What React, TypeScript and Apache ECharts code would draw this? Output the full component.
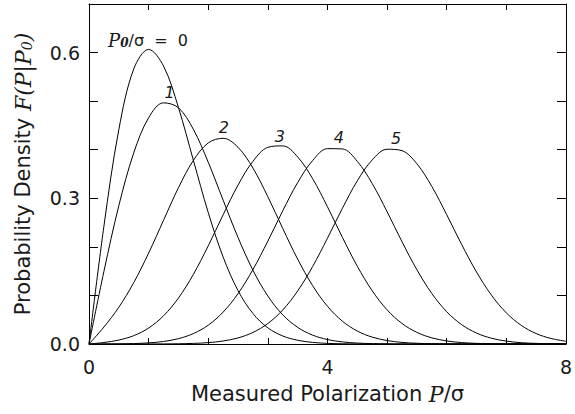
import React, { useEffect, useRef } from "react";
import * as echarts from "echarts";

// Sample positions P/sigma
const xValues = [
  0, 0.25, 0.5, 0.75, 1, 1.25, 1.5, 1.75, 2, 2.25, 2.5, 2.75, 3, 3.25, 3.5, 3.75, 4,
  4.25, 4.5, 4.75, 5, 5.25, 5.5, 5.75, 6, 6.25, 6.5, 6.75, 7, 7.25, 7.5, 7.75, 8,
];

// Probability density (P0/sigma = 0..5)
const curveP0 = [
  0, 0.2423, 0.4412, 0.5661, 0.6065, 0.5723, 0.487, 0.3785, 0.2707, 0.179, 0.1098, 0.0627,
  0.0333, 0.0165, 0.0077, 0.0033, 0.0013, 0.0005, 0.0002, 0.0001, 0, 0, 0, 0, 0, 0, 0, 0, 0,
  0, 0, 0, 0,
];
const curveP1 = [
  0, 0.1493, 0.2846, 0.3933, 0.4658, 0.4965, 0.4864, 0.4421, 0.3742, 0.2961, 0.2192, 0.1519,
  0.0987, 0.06, 0.0343, 0.0183, 0.0092, 0.0043, 0.0019, 0.0008, 0.0003, 0.0001, 0, 0, 0, 0, 0,
  0, 0, 0, 0, 0, 0,
];
const curveP2 = [
  0, 0.0349, 0.0756, 0.1262, 0.1871, 0.2547, 0.3217, 0.3779, 0.414, 0.4235, 0.4049, 0.3622,
  0.3032, 0.2378, 0.1747, 0.1203, 0.0776, 0.047, 0.0267, 0.0142, 0.0071, 0.0033, 0.0015, 0.0006,
  0.0002, 0.0001, 0, 0, 0, 0, 0, 0, 0,
];
const curveP3 = [
  0, 0.0031, 0.0081, 0.0172, 0.0329, 0.058, 0.0946, 0.1432, 0.2021, 0.2661, 0.3272, 0.3762,
  0.4049, 0.4079, 0.3851, 0.3406, 0.2825, 0.2196, 0.1602, 0.1096, 0.0703, 0.0423, 0.0239, 0.0127,
  0.0063, 0.0029, 0.0013, 0.0005, 0.0002, 0.0001, 0, 0, 0,
];
const curveP4 = [
  0, 0.0001, 0.0003, 0.0009, 0.0023, 0.0052, 0.011, 0.0214, 0.0388, 0.0657, 0.1038, 0.1533,
  0.2118, 0.2742, 0.3324, 0.3776, 0.4022, 0.4016, 0.3761, 0.3304, 0.2723, 0.2105, 0.1528, 0.104,
  0.0665, 0.0399, 0.0225, 0.0119, 0.0059, 0.0027, 0.0012, 0.0005, 0.0002,
];
const curveP5 = [
  0, 0, 0, 0, 0.0001, 0.0002, 0.0005, 0.0012, 0.0028, 0.0062, 0.0125, 0.0238, 0.0422, 0.0701,
  0.1092, 0.1593, 0.2178, 0.2793, 0.3359, 0.3789, 0.401, 0.3981, 0.371, 0.3244, 0.2662, 0.205,
  0.1482, 0.1006, 0.0641, 0.0384, 0.0215, 0.0114, 0.0056,
];
const curves = [curveP0, curveP1, curveP2, curveP3, curveP4, curveP5];

// Curve annotations (data coordinates)
const labelTexts = ["{p|P}{s|0}{n|/σ  =  0}", "1", "2", "3", "4", "5"];
const labelX = [0.99, 1.35, 2.26, 3.2, 4.19, 5.15];
const labelY = [0.625, 0.518, 0.446, 0.427, 0.425, 0.423];

// Axis label rules
const xLabelValues = [0, 4, 8];
const yLabelValues = [0, 0.3, 0.6];

const SANS = "DejaVu Sans";
const SERIF = "DejaVu Serif";
const TXT = "#1a1a1a";

export default function App() {
  const ref = useRef<HTMLDivElement>(null);
  useEffect(() => {
    document.body.style.margin = "0";
    const chart = echarts.init(ref.current!, null, { renderer: "svg" });
    const axisLine = { show: true, onZero: false, lineStyle: { color: "#000", width: 1 } };
    const option: any = {
      animation: false,
      backgroundColor: "#fff",
      grid: { left: 89, right: 6, top: 4, bottom: 70 },
      xAxis: [
        {
          type: "value",
          position: "bottom",
          min: 0,
          max: 8,
          interval: 1,
          axisLine,
          axisTick: { inside: true, length: 6, lineStyle: { color: "#000" } },
          splitLine: { show: false },
          axisLabel: {
            margin: 13,
            fontSize: 19,
            fontFamily: SANS,
            color: TXT,
            formatter: (v: number) => (xLabelValues.some((t) => Math.abs(t - v) < 1e-9) ? String(v) : ""),
          },
          name: "Measured Polarization {i|P}/σ",
          nameLocation: "middle",
          nameGap: 39,
          nameTextStyle: {
            fontSize: 21,
            fontFamily: SANS,
            color: TXT,
            rich: {
              i: { fontSize: 22, fontFamily: SERIF, fontStyle: "italic", color: TXT },
            },
          },
        },
        {
          type: "value",
          position: "top",
          min: 0,
          max: 8,
          interval: 1,
          axisLine,
          axisTick: { inside: true, length: 6, lineStyle: { color: "#000" } },
          splitLine: { show: false },
          axisLabel: { show: false },
        },
      ],
      yAxis: [
        {
          type: "value",
          position: "left",
          min: 0,
          max: 0.7,
          interval: 0.1,
          axisLine,
          axisTick: { inside: true, length: 9, lineStyle: { color: "#000" } },
          splitLine: { show: false },
          axisLabel: {
            margin: 9,
            fontSize: 19,
            fontFamily: SANS,
            color: TXT,
            formatter: (v: number) =>
              yLabelValues.some((t) => Math.abs(t - v) < 1e-9) ? v.toFixed(1) : "",
          },
          name: "Probability Density {i|F(P|P}{s|0}{i|)}",
          nameLocation: "middle",
          nameGap: 55,
          nameTextStyle: {
            fontSize: 21,
            fontFamily: SANS,
            color: TXT,
            rich: {
              i: { fontSize: 22, fontFamily: SERIF, fontStyle: "italic", color: TXT },
              s: {
                fontSize: 14,
                fontFamily: SERIF,
                fontStyle: "italic",
                color: TXT,
                verticalAlign: "bottom",
                padding: [7, 0, 0, 0],
              },
            },
          },
        },
        {
          type: "value",
          position: "right",
          min: 0,
          max: 0.7,
          interval: 0.1,
          axisLine,
          axisTick: { inside: true, length: 9, lineStyle: { color: "#000" } },
          splitLine: { show: false },
          axisLabel: { show: false },
        },
      ],
      series: curves.map((vals, k) => ({
        type: "line",
        xAxisIndex: 0,
        yAxisIndex: 0,
        data: xValues.map((x, i) => [x, vals[i]]),
        showSymbol: false,
        smooth: 0.35,
        clip: true,
        lineStyle: { color: "#000", width: 1 },
        silent: true,
        markPoint: {
          symbol: "circle",
          symbolSize: 0,
          silent: true,
          data: [
            {
              coord: [labelX[k], labelY[k]],
              label: {
                show: true,
                position: "inside",
                align: "center",
                verticalAlign: "middle",
                formatter: labelTexts[k],
                fontSize: 16,
                fontFamily: SANS,
                fontStyle: "italic",
                color: TXT,
                rich: {
                  p: { fontSize: 18, fontFamily: SERIF, fontStyle: "italic", color: TXT },
                  s: {
                    fontSize: 12,
                    fontFamily: SERIF,
                    fontStyle: "italic",
                    fontWeight: "bold",
                    color: TXT,
                    verticalAlign: "bottom",
                    padding: [6, 0, 0, 0],
                  },
                  n: { fontSize: 16, fontFamily: SANS, fontStyle: "normal", color: TXT },
                },
              },
            },
          ],
        },
      })),
    };
    chart.setOption(option);
    return () => chart.dispose();
  }, []);
  return <div ref={ref} style={{ width: 575, height: 414 }} />;
}
